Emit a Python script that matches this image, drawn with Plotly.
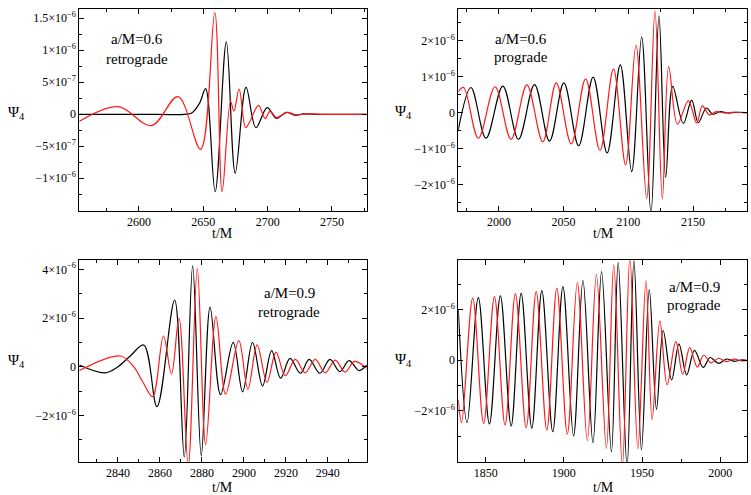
import plotly.graph_objects as go

SCALE = 1e-6  # values below are in units of 1e-6

# ---- Panel 1: a/M=0.6 retrograde ----
p1_black_t = [2553.6, 2600, 2635, 2641, 2647, 2651.8, 2659.2, 2667.9, 2674.8, 2683.2, 2690.9,
              2699.6, 2706.8, 2714.8, 2721, 2728, 2740, 2777]
p1_black_v = [0, 0, 0, 0.02, 0.17, 0.40, -1.21, 1.13, -0.92, 0.42, -0.21,
              0.105, -0.062, 0.03, -0.015, 0.005, 0, 0]
p1_red_t = [2553.6, 2583.8, 2609.7, 2630.3, 2647.9, 2658.9, 2664.6, 2671.2, 2673.8, 2677.8,
            2682.9, 2686, 2692.9, 2698, 2702, 2706.7, 2715.2, 2722, 2730, 2745, 2777]
p1_red_v = [-0.11, 0.12, -0.177, 0.276, -0.547, 1.59, -1.21, 0.2, 0.05, 0.395,
            -0.21, -0.12, 0.14, -0.065, 0.05, -0.05, 0.03, -0.01, 0.005, 0, 0]

# ---- Panel 2: a/M=0.6 prograde ----
p2_black_t = [1968.6, 1978.4, 1990.0, 2003.0, 2015.1, 2027.5, 2039.1, 2050.2, 2061.6, 2072.8,
              2083.6, 2093.8, 2102.6, 2110.3, 2117.5, 2123.7, 2128.9, 2134.3, 2142.5, 2149.0,
              2154.1, 2160.3, 2165.2, 2171, 2177, 2183, 2191.5]
p2_black_v = [-0.48, 0.70, -0.71, 0.74, -0.74, 0.78, -0.79, 0.83, -0.92, 0.99,
              -1.12, 1.33, -1.64, 2.11, -2.8, 2.69, -1.80, 0.73, -0.30, 0.35,
              -0.28, 0.13, -0.04, 0.03, -0.01, 0.01, 0]
p2_red_t = [1968.6, 1972.7, 1984.1, 1997.0, 2009.4, 2021.6, 2033.9, 2044.3, 2055.9, 2067.0,
            2078.1, 2088.5, 2097.9, 2105.9, 2114.2, 2120.6, 2126.3, 2131.2, 2138.0, 2146.4,
            2152.9, 2157.2, 2162.6, 2168, 2174, 2180, 2191.5]
p2_red_v = [0.58, 0.70, -0.71, 0.72, -0.74, 0.77, -0.81, 0.83, -0.87, 0.94,
            -1.05, 1.21, -1.45, 1.88, -2.38, 2.83, -2.40, 1.28, -0.32, 0.33,
            -0.29, 0.19, -0.06, 0.03, -0.01, 0.01, 0]

# ---- Panel 3: a/M=0.9 retrograde ----
p3_black_t = [2821.6, 2833.8, 2840, 2846, 2852.3, 2858.6, 2867.0, 2871.6, 2875.6, 2879.7,
              2883.9, 2888.9, 2894.9, 2899.4, 2904.1, 2908.9, 2913.2, 2917.5, 2922.0, 2926.9,
              2931.1, 2936.2, 2941.0, 2945.7, 2950.1, 2954.9, 2958.5]
p3_black_v = [0.07, -0.25, 0.0, 0.45, 0.89, -1.64, 2.74, -3.70, 4.14, -3.65,
              2.45, -1.15, 1.0, -1.03, 1.0, -0.79, 0.66, -0.47, 0.34, -0.27,
              0.3, -0.27, 0.3, -0.2, 0.25, -0.16, 0.07]
p3_red_t = [2821.6, 2841.2, 2847.5, 2852.0, 2856.5, 2861.7, 2865.5, 2869.1, 2873.5, 2877.8,
            2881.8, 2886.7, 2891.3, 2897.6, 2901.9, 2906.3, 2911.0, 2915.3, 2919.7, 2924.5,
            2929.2, 2934.0, 2938.7, 2943.5, 2948.2, 2952.7, 2958.5]
p3_red_v = [-0.16, 0.44, 0.0, -0.65, -1.23, 1.26, -0.30, 2.0, -4.05, 4.04,
            -3.2, 2.06, -1.13, 1.07, -0.93, 0.9, -0.64, 0.6, -0.37, 0.3,
            -0.25, 0.3, -0.25, 0.27, -0.22, 0.22, -0.07]

# ---- Panel 4: a/M=0.9 prograde ----
p4_black_t = [1832.5, 1838.1, 1845.3, 1852.4, 1859.4, 1866.3, 1872.7, 1879.5, 1885.9, 1892.9,
              1899.4, 1906.2, 1912.2, 1918.6, 1924.1, 1930.4, 1934.7, 1940.4, 1944.8, 1949.6,
              1954.6, 1959.2, 1963.5, 1968.9, 1973.6, 1978.5, 1983.5, 1989.1, 1993.5, 1998.8,
              2004, 2009, 2014, 2016.9]
p4_black_v = [2.0, -2.47, 2.48, -2.52, 2.55, -2.6, 2.65, -2.69, 2.76, -2.83,
              2.92, -3.0, 3.16, -3.26, 3.51, -3.62, 3.87, -4.2, 3.95, -3.55,
              2.8, -1.94, 1.18, -0.78, 0.65, -0.58, 0.39, -0.28, 0.11, -0.12,
              0.05, -0.04, 0.02, 0.0]
p4_red_t = [1832.5, 1834.6, 1841.7, 1848.7, 1855.6, 1862.4, 1869.0, 1875.9, 1882.3, 1889.1,
            1895.5, 1902.2, 1908.6, 1915.0, 1920.8, 1927.2, 1931.9, 1937.4, 1942.2, 1947.3,
            1952.5, 1956.4, 1961.4, 1966.0, 1971.6, 1976.0, 1980.5, 1985.3, 1989.4, 1994.0,
            1999.0, 2004.0, 2009.0, 2013.5, 2016.9]
p4_red_v = [-1.57, -2.47, 2.46, -2.5, 2.52, -2.56, 2.63, -2.67, 2.72, -2.76,
            2.85, -2.92, 3.08, -3.18, 3.38, -3.49, 3.78, -4.2, 4.1, -3.5,
            3.15, -2.34, 1.56, -0.97, 0.74, -0.55, 0.5, -0.27, 0.2, -0.1,
            0.08, -0.05, 0.05, -0.02, 0.0]

# tick labels
p1_ytickvals = [-1e-6, -5e-7, 0, 5e-7, 1e-6, 1.5e-6]
p1_yticktext = ["−1×10<sup>−6</sup>", "−5×10<sup>−7</sup>", "0", "5×10<sup>−7</sup>",
                "1×10<sup>−6</sup>", "1.5×10<sup>−6</sup>"]
p2_ytickvals = [-2e-6, -1e-6, 0, 1e-6, 2e-6]
p2_yticktext = ["−2×10<sup>−6</sup>", "−1×10<sup>−6</sup>", "0", "1×10<sup>−6</sup>", "2×10<sup>−6</sup>"]
p3_ytickvals = [-2e-6, 0, 2e-6, 4e-6]
p3_yticktext = ["−2×10<sup>−6</sup>", "0", "2×10<sup>−6</sup>", "4×10<sup>−6</sup>"]
p4_ytickvals = [-2e-6, 0, 2e-6]
p4_yticktext = ["−2×10<sup>−6</sup>", "0", "2×10<sup>−6</sup>"]

labels = [("a/M=0.6", "retrograde"), ("a/M=0.6", "prograde"),
          ("a/M=0.9", "retrograde"), ("a/M=0.9", "prograde")]

W, H = 751, 495
FONT = "'Liberation Serif', 'Times New Roman', 'DejaVu Serif', serif"

def px_x(p):
    return p / W

def px_y(p):
    return 1 - p / H

xd_left = [px_x(79.3), px_x(366.7)]
xd_right = [px_x(458.3), px_x(746.7)]
yd_top = [px_y(211), px_y(9)]
yd_bot = [px_y(462), px_y(260)]

panels = [
    dict(bt=p1_black_t, bv=p1_black_v, rt=p1_red_t, rv=p1_red_v,
         xr=[2553.6, 2777], yr=[-1.511e-6, 1.645e-6], xd=xd_left, yd=yd_top,
         xdt=50, xminor=25, yv=p1_ytickvals, ytx=p1_yticktext, yminor=2.5e-7,
         lab=(137, 39, 59), psi=(6, 113), tm=(223, 234)),
    dict(bt=p2_black_t, bv=p2_black_v, rt=p2_red_t, rv=p2_red_v,
         xr=[1968.6, 2191.5], yr=[-2.733e-6, 2.881e-6], xd=xd_right, yd=yd_top,
         xdt=50, xminor=25, yv=p2_ytickvals, ytx=p2_yticktext, yminor=5e-7,
         lab=(521, 39, 57), psi=(393, 112), tm=(603, 234)),
    dict(bt=p3_black_t, bv=p3_black_v, rt=p3_red_t, rv=p3_red_v,
         xr=[2821.6, 2958.5], yr=[-3.914e-6, 4.382e-6], xd=xd_left, yd=yd_bot,
         xdt=20, xminor=10, yv=p3_ytickvals, ytx=p3_yticktext, yminor=1e-6,
         lab=(289, 293, 312), psi=(6, 361), tm=(223, 487)),
    dict(bt=p4_black_t, bv=p4_black_v, rt=p4_red_t, rv=p4_red_v,
         xr=[1832.5, 2016.9], yr=[-4.028e-6, 3.972e-6], xd=xd_right, yd=yd_bot,
         xdt=50, xminor=25, yv=p4_ytickvals, ytx=p4_yticktext, yminor=1e-6,
         lab=(694, 287, 305), psi=(393, 360), tm=(603, 487)),
]

fig = go.Figure()
annotations = []
layout = {}
for i, p in enumerate(panels, start=1):
    xa = "x" if i == 1 else f"x{i}"
    ya = "y" if i == 1 else f"y{i}"
    for t, v, c in ((p["bt"], p["bv"], "black"), (p["rt"], p["rv"], "#ff1a1a")):
        fig.add_trace(go.Scatter(
            x=t, y=[val * SCALE for val in v], mode="lines",
            line=dict(color=c, width=1.2, shape="spline", smoothing=1.0),
            xaxis=xa, yaxis=ya, showlegend=False, hoverinfo="skip"))
    common = dict(showline=True, linecolor="black", linewidth=1, mirror="ticks",
                  ticks="inside", ticklen=5, tickcolor="black", showgrid=False,
                  zeroline=False, tickfont=dict(family=FONT, size=12, color="black"))
    layout["xaxis" if i == 1 else f"xaxis{i}"] = dict(
        domain=p["xd"], range=p["xr"], anchor=ya, dtick=p["xdt"], tick0=0,
        minor=dict(ticks="inside", ticklen=3, tickmode="linear", tick0=0,
                   dtick=p["xminor"], tickcolor="black", showgrid=False),
        **common)
    layout["yaxis" if i == 1 else f"yaxis{i}"] = dict(
        domain=p["yd"], range=p["yr"], anchor=xa, tickmode="array",
        tickvals=p["yv"], ticktext=p["ytx"],
        minor=dict(ticks="inside", ticklen=3, tickmode="linear", tick0=0,
                   dtick=p["yminor"], tickcolor="black", showgrid=False),
        **common)
    lx, ly1, ly2 = p["lab"]
    l1, l2 = labels[i - 1]
    for txt, yy in ((l1, ly1), (l2, ly2)):
        annotations.append(dict(text=txt, x=px_x(lx), y=px_y(yy), xref="paper", yref="paper",
                                xanchor="center", yanchor="middle", showarrow=False,
                                font=dict(family=FONT, size=15, color="black")))
    annotations.append(dict(text="Ψ<sub>4</sub>", x=px_x(p["psi"][0]), y=px_y(p["psi"][1]),
                            xref="paper", yref="paper", xanchor="left", yanchor="middle",
                            showarrow=False, font=dict(family=FONT, size=15, color="black")))
    annotations.append(dict(text="t/M", x=px_x(p["tm"][0]), y=px_y(p["tm"][1]),
                            xref="paper", yref="paper", xanchor="center", yanchor="middle",
                            showarrow=False, font=dict(family=FONT, size=14, color="black")))

fig.update_layout(width=W, height=H, margin=dict(l=0, r=0, t=0, b=0),
                  paper_bgcolor="white", plot_bgcolor="white",
                  font=dict(family=FONT, color="black"),
                  annotations=annotations, **layout)
fig.write_html("out.html")
